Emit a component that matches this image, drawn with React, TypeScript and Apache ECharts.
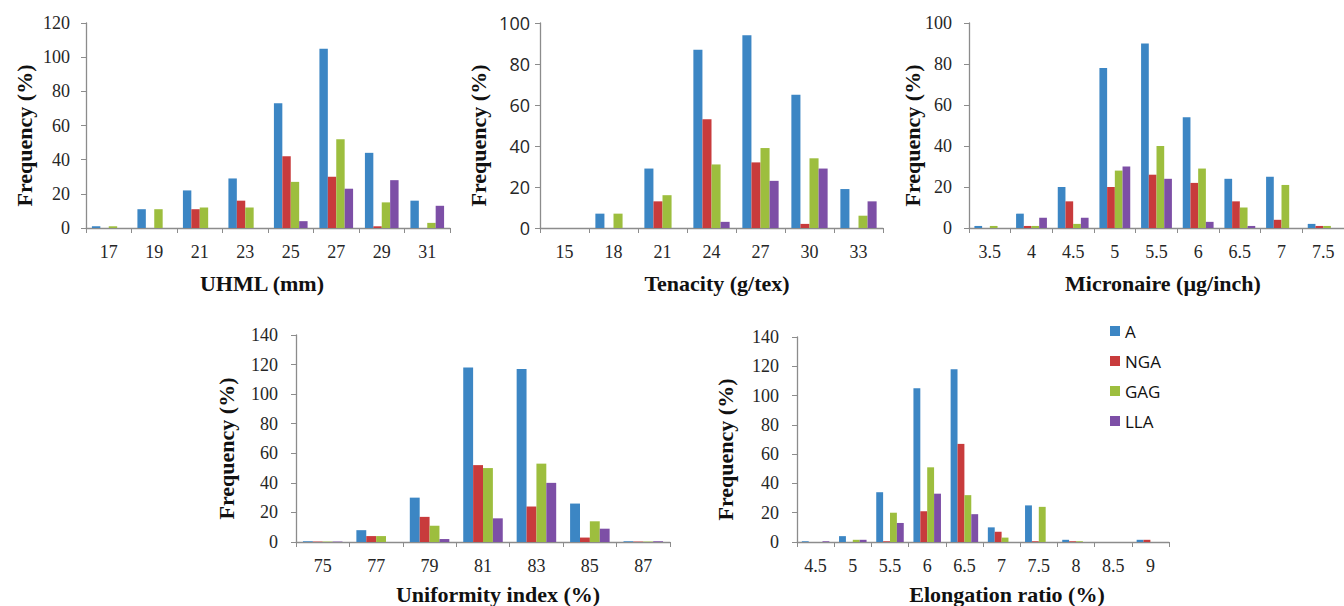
import React, { useEffect, useRef } from "react";
import * as echarts from "echarts";

const seriesNames = ["A", "NGA", "GAG", "LLA"];
const colors = ["#3C86C4", "#C83B3C", "#9DBE3E", "#7D4FA6"];

const uhmlCats = ["17", "19", "21", "23", "25", "27", "29", "31"];
const uhmlA = [1, 11, 22, 29, 73, 105, 44, 16];
const uhmlNGA = [0, 0, 11, 16, 42, 30, 1, 0];
const uhmlGAG = [1, 11, 12, 12, 27, 52, 15, 3];
const uhmlLLA = [0, 0, 0, 0, 4, 23, 28, 13];

const tenCats = ["15", "18", "21", "24", "27", "30", "33"];
const tenA = [0, 7, 29, 87, 94, 65, 19];
const tenNGA = [0, 0, 13, 53, 32, 2, 0];
const tenGAG = [0, 7, 16, 31, 39, 34, 6];
const tenLLA = [0, 0, 0, 3, 23, 29, 13];

const micCats = ["3.5", "4", "4.5", "5", "5.5", "6", "6.5", "7", "7.5"];
const micA = [1, 7, 20, 78, 90, 54, 24, 25, 2];
const micNGA = [0, 1, 13, 20, 26, 22, 13, 4, 1];
const micGAG = [1, 1, 2, 28, 40, 29, 10, 21, 1];
const micLLA = [0, 5, 5, 30, 24, 3, 1, 0, 0];

const uniCats = ["75", "77", "79", "81", "83", "85", "87"];
const uniA = [0.5, 8, 30, 118, 117, 26, 0.5];
const uniNGA = [0.3, 4, 17, 52, 24, 3, 0.3];
const uniGAG = [0.3, 4, 11, 50, 53, 14, 0.3];
const uniLLA = [0.3, 0, 2, 16, 40, 9, 0.5];

const eloCats = ["4.5", "5", "5.5", "6", "6.5", "7", "7.5", "8", "8.5", "9"];
const eloA = [0.5, 4, 34, 105, 118, 10, 25, 1.5, 0, 1.5];
const eloNGA = [0, 0, 0.5, 21, 67, 7, 0.5, 0.5, 0, 1.5];
const eloGAG = [0, 1.5, 20, 51, 32, 3, 24, 0.5, 0, 0];
const eloLLA = [0.5, 1.5, 13, 33, 19, 0, 0, 0, 0, 0];

const serif = "Liberation Serif, Times New Roman, serif";
const sans = "Open Sans, sans-serif";

const panels = [
  { cats: uhmlCats, data: [uhmlA, uhmlNGA, uhmlGAG, uhmlLLA], max: 120, xTitle: "UHML (mm)",
    grid: { left: 86, top: 23, width: 364, height: 205 }, yFont: serif, yMargin: 16,
    yTitleX: 24, xTitleX: 262, xTitleY: 283 },
  { cats: tenCats, data: [tenA, tenNGA, tenGAG, tenLLA], max: 100, xTitle: "Tenacity (g/tex)",
    grid: { left: 540, top: 23, width: 343, height: 205 }, yFont: sans, yMargin: 10,
    yTitleX: 478, xTitleX: 717, xTitleY: 283 },
  { cats: micCats, data: [micA, micNGA, micGAG, micLLA], max: 100, xTitle: "Micronaire (µg/inch)",
    grid: { left: 969, top: 23, width: 385, height: 205 }, yFont: serif, yMargin: 17,
    yTitleX: 912, xTitleX: 1163, xTitleY: 283 },
  { cats: uniCats, data: [uniA, uniNGA, uniGAG, uniLLA], max: 140, xTitle: "Uniformity index (%)",
    grid: { left: 296, top: 335, width: 374, height: 207 }, yFont: serif, yMargin: 18,
    yTitleX: 226, xTitleX: 498, xTitleY: 594 },
  { cats: eloCats, data: [eloA, eloNGA, eloGAG, eloLLA], max: 140, xTitle: "Elongation ratio (%)",
    grid: { left: 797, top: 337, width: 372, height: 205 }, yFont: serif, yMargin: 18,
    yTitleX: 725, xTitleX: 1007, xTitleY: 594 },
];

const axisColor = "#8C8C8C";
const labelColor = "#262626";

export default function App() {
  const ref = useRef<HTMLDivElement>(null);
  useEffect(() => {
    if (!ref.current) return;
    const chart = echarts.init(ref.current, null, { renderer: "svg" });
    const grids: any[] = [];
    const xAxes: any[] = [];
    const yAxes: any[] = [];
    const series: any[] = [];
    const graphics: any[] = [];
    panels.forEach((p, i) => {
      grids.push({ ...p.grid, containLabel: false });
      xAxes.push({
        type: "category",
        gridIndex: i,
        data: p.cats,
        boundaryGap: true,
        axisLine: { lineStyle: { color: axisColor, width: 1.3 } },
        axisTick: { show: true, length: 5, lineStyle: { color: axisColor } },
        axisLabel: { color: labelColor, fontFamily: serif, fontSize: 18, margin: 15, interval: 0 },
        splitLine: { show: false },
      });
      yAxes.push({
        type: "value",
        gridIndex: i,
        min: 0,
        max: p.max,
        interval: 20,
        axisLine: { show: true, lineStyle: { color: axisColor, width: 1.3 } },
        axisTick: { show: true, length: 5, lineStyle: { color: axisColor } },
        axisLabel: { color: labelColor, fontFamily: p.yFont, fontSize: 18, margin: p.yMargin },
        splitLine: { show: false },
      });
      p.data.forEach((d, k) => {
        series.push({
          type: "bar",
          name: seriesNames[k],
          xAxisIndex: i,
          yAxisIndex: i,
          data: d,
          barGap: "0%",
          barCategoryGap: "26%",
          itemStyle: { color: colors[k] },
        });
      });
      const midY = p.grid.top + p.grid.height / 2 + 10;
      graphics.push({
        type: "text",
        x: p.yTitleX,
        y: midY,
        rotation: Math.PI / 2,
        style: {
          text: "Frequency (%)",
          fontFamily: serif,
          fontWeight: "bold",
          fontSize: 22,
          fill: "#111",
          textAlign: "center",
          textVerticalAlign: "middle",
        },
      });
      graphics.push({
        type: "text",
        x: p.xTitleX,
        y: p.xTitleY,
        style: {
          text: p.xTitle,
          fontFamily: serif,
          fontWeight: "bold",
          fontSize: 22,
          fill: "#111",
          textAlign: "center",
          textVerticalAlign: "middle",
        },
      });
    });
    chart.setOption({
      animation: false,
      backgroundColor: "#ffffff",
      color: colors,
      grid: grids,
      xAxis: xAxes,
      yAxis: yAxes,
      series,
      graphic: graphics,
      legend: {
        data: seriesNames,
        orient: "vertical",
        left: 1105,
        top: 316,
        itemWidth: 10,
        itemHeight: 10,
        itemGap: 10,
        icon: "rect",
        textStyle: { fontFamily: sans, fontSize: 17, color: "#111", lineHeight: 20 },
      },
    });
    return () => chart.dispose();
  }, []);
  return (
    <div
      ref={ref}
      style={{ position: "absolute", left: 0, top: 0, width: 1344, height: 606, background: "#fff" }}
    />
  );
}
